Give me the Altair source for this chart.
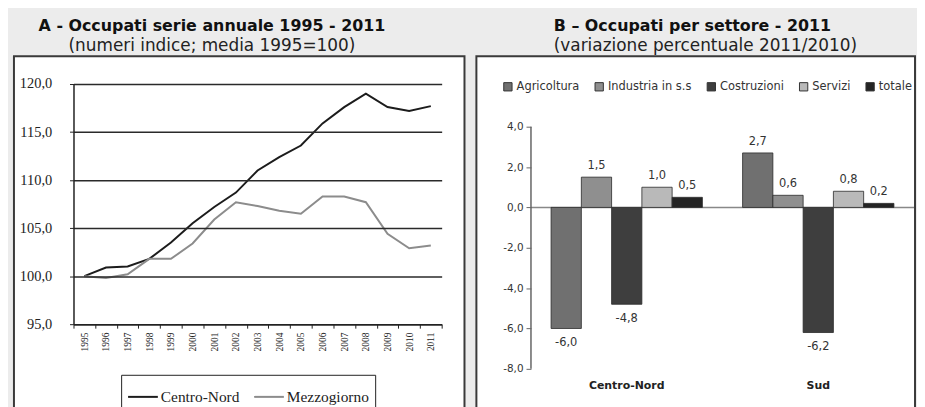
import altair as alt
import pandas as pd

# ---------------- Panel A data ----------------
years = [str(y) for y in range(1995, 2012)]
centro_nord = [100.0, 100.9, 101.0, 101.8, 103.5, 105.5, 107.2, 108.7, 111.0,
               112.4, 113.6, 115.9, 117.6, 119.0, 117.6, 117.2, 117.7]
mezzogiorno = [100.0, 99.8, 100.2, 101.8, 101.8, 103.4, 105.9, 107.7, 107.3,
               106.8, 106.5, 108.3, 108.3, 107.7, 104.4, 102.9, 103.2]
series_names = ["Centro-Nord", "Mezzogiorno"]
y_ticks_a = [95, 100, 105, 110, 115, 120]

# ---------------- Panel B data ----------------
regions = ["Centro-Nord", "Sud"]
sectors = ["Agricoltura", "Industria in s.s", "Costruzioni", "Servizi", "totale"]
centro_nord_var = [-6.0, 1.5, -4.8, 1.0, 0.5]
sud_var = [2.7, 0.6, -6.2, 0.8, 0.2]
y_ticks_b = [-8, -6, -4, -2, 0, 2, 4]

sector_colors = ["#707070", "#8f8f8f", "#3e3e3e", "#b9b9b9", "#242424"]


def it_fmt(v):
    return f"{v:.1f}".replace(".", ",")


df_a = pd.DataFrame({
    "year": years * 2,
    "value": centro_nord + mezzogiorno,
    "series": [series_names[0]] * len(years) + [series_names[1]] * len(years),
})
df_b = pd.DataFrame({
    "region": [regions[0]] * len(sectors) + [regions[1]] * len(sectors),
    "sector": sectors * 2,
    "value": centro_nord_var + sud_var,
})
df_b["label"] = [it_fmt(v) for v in df_b["value"]]
one = pd.DataFrame({"k": [0]})

comma = "replace(replace(format(datum.value, '.1f'), '.', ','), '\u2212', '-')"

TITLE_KW = dict(
    frame="group", offset=1,
    font="DejaVu Sans", fontSize=16, fontWeight="bold", color="#111",
    subtitleFont="DejaVu Sans", subtitleFontSize=17, subtitleColor="#222",
    subtitlePadding=4,
)

# ---------------- Panel A ----------------
frame_a = alt.Chart(one).mark_rect(fill="white", stroke="#3a3a3a", strokeWidth=2).encode(
    x=alt.value(-60), x2=alt.value(394), y=alt.value(-28), y2=alt.value(340)
)

lines = alt.Chart(df_a).mark_line(strokeWidth=2).encode(
    x=alt.X("year:O", sort=years,
            scale=alt.Scale(type="band", paddingInner=0, paddingOuter=0),
            axis=alt.Axis(title=None, labelAngle=-90, tickBand="extent", zindex=1,
                          labelFont="Liberation Serif", labelFontSize=9.5,
                          labelColor="#222", tickSize=4, tickColor="#222",
                          domainColor="#222", domainWidth=1.5, labelPadding=4)),
    y=alt.Y("value:Q", scale=alt.Scale(domain=[95, 120], nice=False, zero=False),
            axis=alt.Axis(title=None, values=y_ticks_a, labelExpr=comma, zindex=1,
                          grid=True, gridColor="#2a2a2a", gridWidth=1.5,
                          gridOpacity=1, domainColor="#222", domainWidth=1.5,
                          tickColor="#222", tickSize=4,
                          labelFont="Liberation Serif", labelFontSize=14.5,
                          labelColor="#222", labelPadding=18)),
    color=alt.Color("series:N",
                    scale=alt.Scale(domain=series_names, range=["#1c1c1c", "#8c8c8c"]),
                    legend=alt.Legend(title=None, orient="none", legendX=48, legendY=293,
                                      direction="horizontal", strokeColor="#222",
                                      fillColor="white", padding=6, zindex=1,
                                      symbolType="stroke", symbolSize=900,
                                      symbolStrokeWidth=2, labelFont="Liberation Serif",
                                      labelFontSize=15.5, labelColor="#222",
                                      columnPadding=10, labelOffset=2)),
)

panel_a = alt.layer(frame_a, lines).properties(
    width=371, height=242,
    view=alt.ViewBackground(stroke="#2a2a2a", strokeWidth=1.5),
    title=alt.TitleParams(
        "A - Occupati  serie annuale 1995 - 2011",
        subtitle="(numeri indice; media 1995=100)",
        anchor="middle", dx=-46, **TITLE_KW,
    ),
)

# ---------------- Panel B ----------------
# plot area starts at the same height as panel A; the y scale is extended above 4
# so that the bars sit lower, as in the original.
b_px_per_unit = 244 / 12
b_top = 4 + 43 / b_px_per_unit

frame_b = alt.Chart(one).mark_rect(fill="white", stroke="#3a3a3a", strokeWidth=2).encode(
    x=alt.value(-55), x2=alt.value(387), y=alt.value(-28), y2=alt.value(343)
)

x_b = alt.X("region:N", sort=regions,
            scale=alt.Scale(paddingInner=0.21, paddingOuter=0.105),
            axis=alt.Axis(title=None, labelAngle=0, domain=False, ticks=False, zindex=1,
                          labelFont="DejaVu Sans", labelFontWeight="bold",
                          labelFontSize=11, labelColor="#222", labelPadding=11))
xo_b = alt.XOffset("sector:N", sort=sectors, scale=alt.Scale(paddingInner=0, paddingOuter=0))
y_b = alt.Y("value:Q", scale=alt.Scale(domain=[-8, b_top], nice=False),
            axis=alt.Axis(title=None, values=y_ticks_b, labelExpr=comma, grid=False,
                          domain=False, zindex=1, tickColor="#666",
                          tickSize=5, labelFont="DejaVu Sans", labelFontSize=10.5,
                          labelColor="#333", labelPadding=3))

y_axis_line = alt.Chart(one).mark_rule(color="#666", strokeWidth=1.5).encode(
    x=alt.value(0), y=alt.datum(y_ticks_b[0]), y2=alt.datum(y_ticks_b[-1]))
zero_rule = alt.Chart(one).mark_rule(color="#888", strokeWidth=1.5).encode(y=alt.datum(0))

bars = alt.Chart(df_b).mark_bar(stroke="#2a2a2a", strokeWidth=0.8).encode(
    x=x_b, xOffset=xo_b, y=y_b,
    color=alt.Color("sector:N", sort=sectors,
                    scale=alt.Scale(domain=sectors, range=sector_colors),
                    legend=alt.Legend(title=None, orient="none", legendX=-29, legendY=-3,
                                      direction="horizontal", columns=5, zindex=1,
                                      symbolType="square", symbolSize=70,
                                      symbolStrokeColor="#333", symbolStrokeWidth=1,
                                      labelFont="DejaVu Sans", labelFontSize=11.5,
                                      labelColor="#333", columnPadding=13,
                                      labelOffset=3)),
)

labels_pos = alt.Chart(df_b).transform_filter("datum.value >= 0").mark_text(
    dy=-11, font="DejaVu Sans", fontSize=11.5, color="#333").encode(
    x=x_b, xOffset=xo_b, y=y_b, text="label:N")
labels_neg = alt.Chart(df_b).transform_filter("datum.value < 0").mark_text(
    dy=15, font="DejaVu Sans", fontSize=11.5, color="#333").encode(
    x=x_b, xOffset=xo_b, y=y_b, text="label:N")

panel_b = alt.layer(frame_b, zero_rule, y_axis_line, bars, labels_pos, labels_neg).properties(
    width=386, height=287,
    view=alt.ViewBackground(stroke="transparent"),
    title=alt.TitleParams(
        "B – Occupati per settore - 2011",
        subtitle="(variazione percentuale 2011/2010)",
        anchor="start", dx=23, **TITLE_KW,
    ),
)

chart = alt.hconcat(panel_a, panel_b, spacing=8).resolve_scale(
    color="independent", x="independent", y="independent"
).resolve_legend(color="independent").properties(
    padding={"left": 4, "top": 8, "right": 0, "bottom": 0},
    background="#ececec",
)

chart.save("out.html", embed_options={"renderer": "svg", "actions": False})
